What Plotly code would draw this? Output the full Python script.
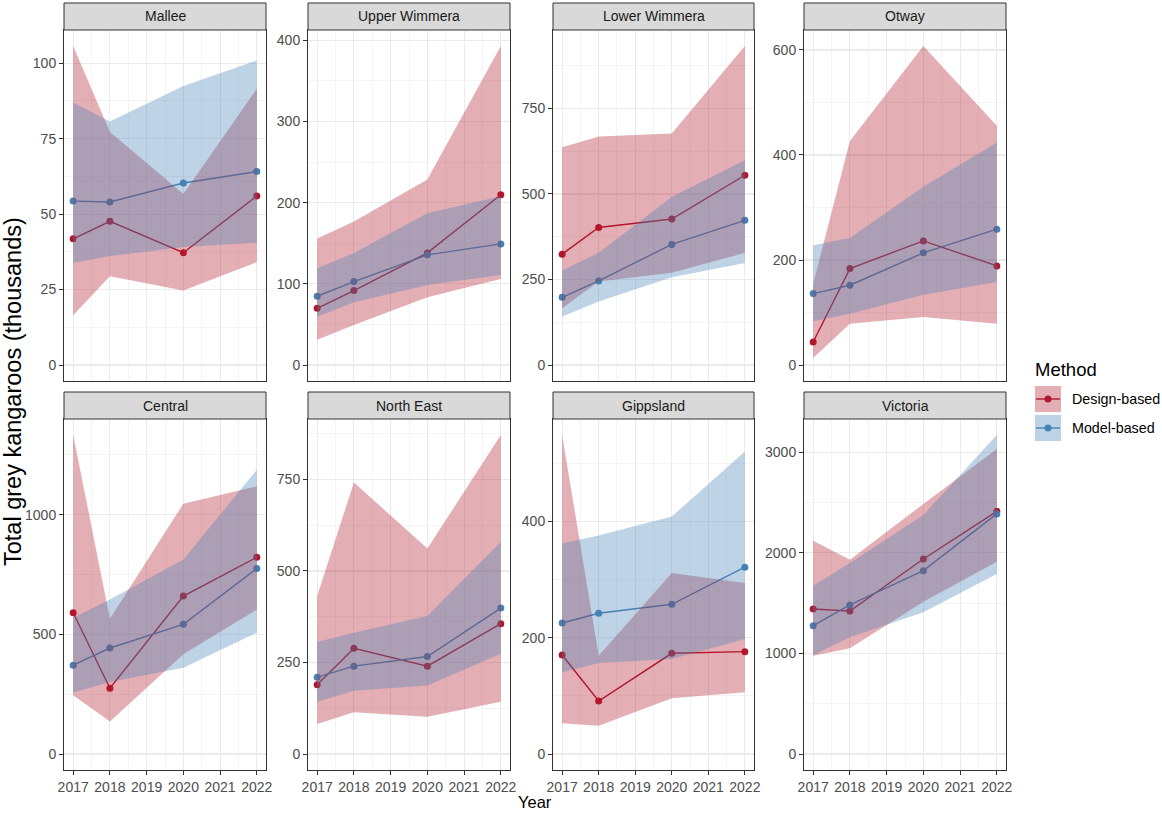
import plotly.graph_objects as go

# ---------------- data ----------------
years = [2017, 2018, 2020, 2022]
regions = ["Mallee", "Upper Wimmera", "Lower Wimmera", "Otway",
           "Central", "North East", "Gippsland", "Victoria"]

# Design-based estimates and 95% bands (thousands), one list per region
design_est = [
    [41.8, 47.6, 37.2, 56.0],
    [69.9, 91.7, 138.1, 209.7],
    [324, 402, 426.8, 554.7],
    [43.9, 183.7, 236.4, 188.8],
    [590, 275, 660, 822],
    [189, 289, 240, 356],
    [170.4, 91.2, 173.3, 176.2],
    [1442, 1422, 1939, 2413],
]
design_lo = [
    [16.5, 29.4, 24.7, 34.1],
    [31.2, 49.3, 83.5, 106],
    [166, 244, 269.5, 328],
    [13.3, 78.8, 91.5, 78.8],
    [246, 136, 417, 604],
    [82, 114, 102, 143],
    [52.8, 48.8, 95.8, 106.2],
    [978, 1051, 1515, 1912],
]
design_hi = [
    [105.7, 77.2, 56.7, 91.5],
    [156, 176.8, 228.6, 393],
    [636.7, 668, 676.8, 932.6],
    [155, 426.5, 607.6, 455.7],
    [1333, 565, 1046, 1118],
    [431.6, 741.8, 561, 871.4],
    [549, 169, 311.6, 294.4],
    [2121, 1932, 2486, 3033],
]
# Model-based estimates and bands
model_est = [
    [54.3, 54.0, 60.3, 64.1],
    [84.7, 102.8, 135.7, 149.2],
    [198, 246, 352.5, 422.9],
    [136, 152, 213.6, 258.7],
    [371, 443, 541.7, 775],
    [210, 240, 266.4, 398.7],
    [225.5, 242.2, 257.7, 321.4],
    [1276, 1482, 1823, 2387],
]
model_lo = [
    [33.8, 36.1, 39.1, 40.5],
    [59.6, 77.3, 98.7, 111],
    [141.6, 185.5, 256.8, 297.9],
    [83.3, 97.9, 134, 158.3],
    [257, 301, 361, 507],
    [143, 173, 187, 273.7],
    [140.6, 156.7, 163.6, 198],
    [984, 1160, 1409, 1790],
]
model_hi = [
    [87.0, 80.7, 92.4, 100.9],
    [119.2, 138, 187, 208],
    [276.4, 328, 491, 598.6],
    [228, 242, 339.4, 424],
    [569, 646, 812.5, 1187.5],
    [305.7, 331, 376.8, 579.4],
    [362.7, 376, 408.6, 520.5],
    [1674, 1899, 2376, 3172],
]

x_tick_vals = [2017, 2018, 2019, 2020, 2021, 2022]
x_minor_vals = [2017.5, 2018.5, 2019.5, 2020.5, 2021.5]
y_tick_vals = [
    [0, 25, 50, 75, 100],
    [0, 100, 200, 300, 400],
    [0, 250, 500, 750],
    [0, 200, 400, 600],
    [0, 500, 1000],
    [0, 250, 500, 750],
    [0, 200, 400],
    [0, 1000, 2000, 3000],
]
y_minor_vals = [
    [12.5, 37.5, 62.5, 87.5],
    [50, 150, 250, 350],
    [125, 375, 625, 875],
    [100, 300, 500],
    [250, 750, 1250],
    [125, 375, 625, 875],
    [100, 300, 500],
    [500, 1500, 2500],
]
method_names = ["Design-based", "Model-based"]

# ---------------- style / layout ----------------
W, H = 1162, 813
col_left = [64, 308, 553, 804]
col_right = [266, 510, 754, 1006]
row_top = [30, 419]
row_bottom = [381, 770]
strip_h = 27

RED = "#B2182B"
BLUE = "#4682B4"
RED_FILL = "rgba(178,24,43,0.35)"
BLUE_FILL = "rgba(70,130,180,0.35)"
GRID = "#EBEBEB"
BORDER = "#333333"
FONT = "Liberation Sans, Arial, sans-serif"


def px_x(p):
    return p / W


def px_y(p):
    return 1 - p / H


fig = go.Figure()
layout = {}
shapes = []
annotations = []

for i, region in enumerate(regions):
    r, c = divmod(i, 4)
    sfx = "" if i == 0 else str(i + 1)
    xa, ya = "x" + sfx, "y" + sfx

    # lines + points first (ribbons drawn over them, as in the reference)
    for est, color in [(design_est[i], RED), (model_est[i], BLUE)]:
        fig.add_trace(go.Scatter(
            x=years, y=est, mode="lines+markers",
            line=dict(color=color, width=1.4),
            marker=dict(color=color, size=7),
            xaxis=xa, yaxis=ya, showlegend=False, hoverinfo="skip"))
    for lo, hi, fillc in [(design_lo[i], design_hi[i], RED_FILL),
                          (model_lo[i], model_hi[i], BLUE_FILL)]:
        fig.add_trace(go.Scatter(
            x=years + years[::-1], y=hi + lo[::-1],
            fill="toself", fillcolor=fillc, mode="lines",
            line=dict(width=0), xaxis=xa, yaxis=ya,
            showlegend=False, hoverinfo="skip"))

    ymax = max(max(design_hi[i]), max(model_hi[i]),
               max(design_est[i]), max(model_est[i]))
    yrange = [-0.05 * ymax, 1.05 * ymax]
    x0, x1 = px_x(col_left[c]), px_x(col_right[c])
    y0, y1 = px_y(row_bottom[r]), px_y(row_top[r])
    bottom_row = (r == 1)

    layout["xaxis" + sfx] = dict(
        domain=[x0, x1], anchor=ya, range=[2016.75, 2022.25],
        automargin=False,
        tickmode="array", tickvals=x_tick_vals,
        showticklabels=bottom_row, ticks="outside" if bottom_row else "",
        ticklen=4, tickwidth=1, tickcolor=BORDER,
        tickfont=dict(size=14, color="#4D4D4D", family=FONT),
        showgrid=True, gridcolor=GRID, gridwidth=1.1,
        minor=dict(tickmode="array", tickvals=x_minor_vals, showgrid=True,
                   gridcolor=GRID, gridwidth=0.55, ticks=""),
        showline=True, mirror=True, linecolor=BORDER, linewidth=1,
        zeroline=False, fixedrange=True)
    layout["yaxis" + sfx] = dict(
        domain=[y0, y1], anchor=xa, range=yrange,
        automargin=False,
        tickmode="array", tickvals=y_tick_vals[i],
        ticktext=[str(v) for v in y_tick_vals[i]],
        ticks="outside", ticklen=4, tickwidth=1, tickcolor=BORDER,
        tickfont=dict(size=14, color="#4D4D4D", family=FONT),
        showgrid=True, gridcolor=GRID, gridwidth=1.1,
        minor=dict(tickmode="array", tickvals=y_minor_vals[i], showgrid=True,
                   gridcolor=GRID, gridwidth=0.55, ticks=""),
        showline=True, mirror=True, linecolor=BORDER, linewidth=1,
        zeroline=False, fixedrange=True)

    # facet strip
    st_top = row_top[r] - strip_h
    shapes.append(dict(type="rect", xref="paper", yref="paper",
                       x0=x0, x1=x1, y0=px_y(row_top[r]), y1=px_y(st_top),
                       fillcolor="#D9D9D9", line=dict(color=BORDER, width=1)))
    annotations.append(dict(text=region, xref="paper", yref="paper",
                            x=(x0 + x1) / 2, y=px_y(st_top + strip_h / 2),
                            xanchor="center", yanchor="middle", showarrow=False,
                            font=dict(size=14, color="#1A1A1A", family=FONT)))

# axis titles
annotations.append(dict(text="Year", xref="paper", yref="paper",
                        x=px_x((col_left[0] + col_right[3]) / 2), y=px_y(802),
                        xanchor="center", yanchor="middle", showarrow=False,
                        font=dict(size=16.5, color="black", family=FONT)))
annotations.append(dict(text="Total grey kangaroos (thousands)", xref="paper", yref="paper",
                        x=px_x(13), y=px_y(392), textangle=-90,
                        xanchor="center", yanchor="middle", showarrow=False,
                        font=dict(size=23.5, color="black", family=FONT)))

# legend (drawn manually to show ribbon + line + point keys)
annotations.append(dict(text="Method", xref="paper", yref="paper",
                        x=px_x(1033), y=px_y(369), xanchor="left", yanchor="middle",
                        showarrow=False, font=dict(size=18.5, color="black", family=FONT)))
key_x0, key_x1 = 1035, 1061
for k, (name, col, fillc) in enumerate(zip(method_names, [RED, BLUE], [RED_FILL, BLUE_FILL])):
    top = 386 + k * 29
    bot = top + 26
    cy = (top + bot) / 2
    shapes.append(dict(type="rect", xref="paper", yref="paper",
                       x0=px_x(key_x0), x1=px_x(key_x1), y0=px_y(bot), y1=px_y(top),
                       fillcolor=fillc, line=dict(width=0)))
    shapes.append(dict(type="line", xref="paper", yref="paper",
                       x0=px_x(key_x0 + 1), x1=px_x(key_x1 - 1), y0=px_y(cy), y1=px_y(cy),
                       line=dict(color=col, width=1.4)))
    shapes.append(dict(type="circle", xref="paper", yref="paper",
                       x0=px_x((key_x0 + key_x1) / 2 - 3.5), x1=px_x((key_x0 + key_x1) / 2 + 3.5),
                       y0=px_y(cy + 3.5), y1=px_y(cy - 3.5),
                       fillcolor=col, line=dict(width=0)))
    annotations.append(dict(text=name, xref="paper", yref="paper",
                            x=px_x(1070), y=px_y(cy), xanchor="left", yanchor="middle",
                            showarrow=False, font=dict(size=14.3, color="black", family=FONT)))

fig.update_layout(
    width=W, height=H,
    margin=dict(l=0, r=0, t=0, b=0, pad=0, autoexpand=False),
    paper_bgcolor="white", plot_bgcolor="white",
    showlegend=False, shapes=shapes, annotations=annotations,
    font=dict(family=FONT),
    **layout)

# remove the default 8px page margin so the figure fills the window exactly
fig.write_html("out.html",
               config={"displayModeBar": False, "staticPlot": True},
               post_script="document.body.style.margin='0';document.body.style.overflow='hidden';")
